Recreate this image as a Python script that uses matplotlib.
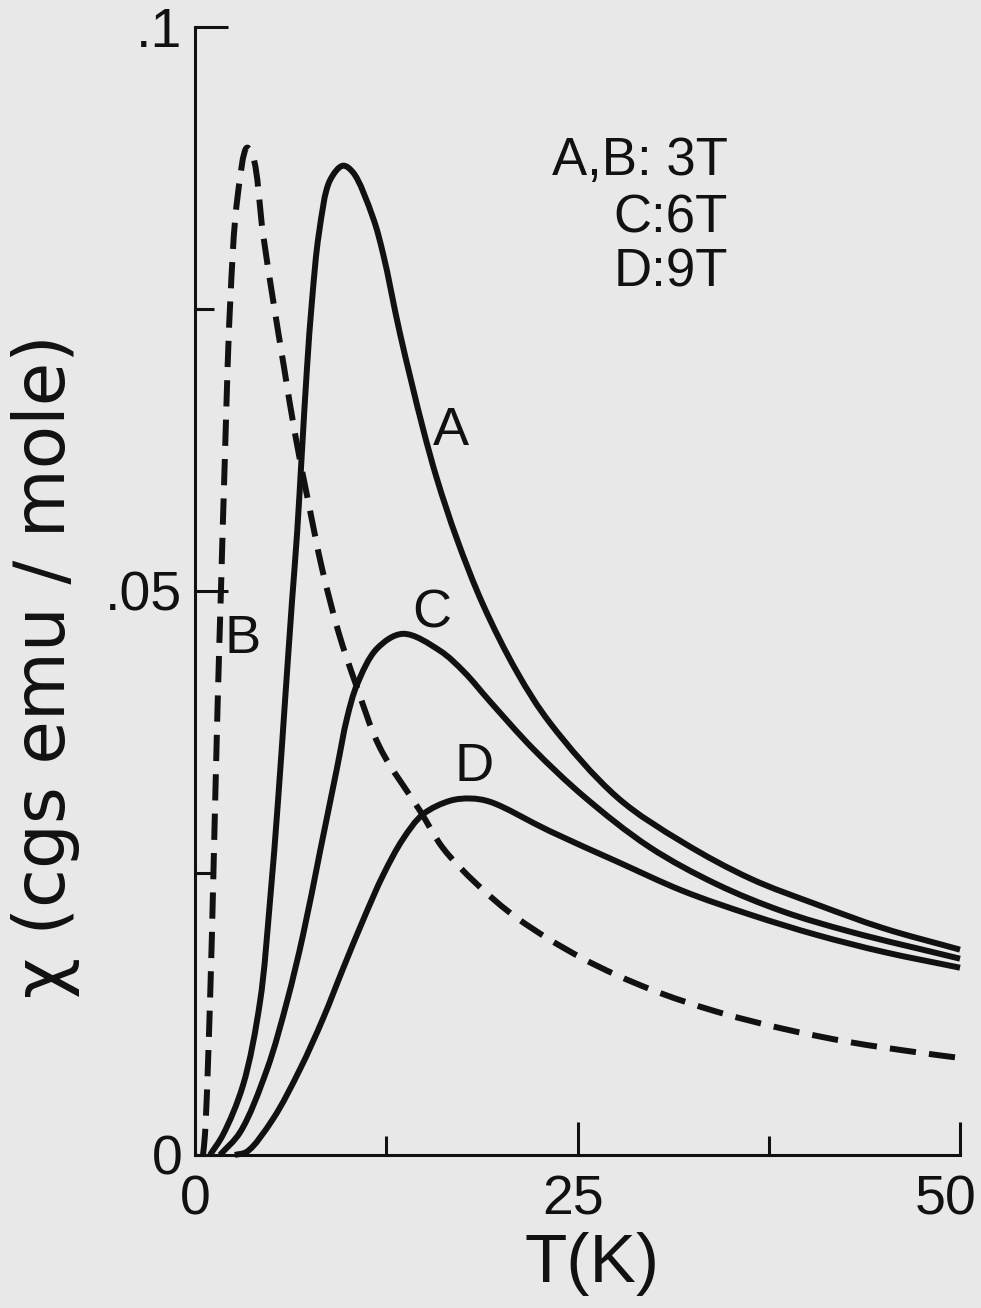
import matplotlib
matplotlib.use("Agg")
import numpy as np
import matplotlib.pyplot as plt
from matplotlib.path import Path
from matplotlib.patches import PathPatch
from matplotlib.transforms import ScaledTranslation
from matplotlib import font_manager

# ---------------- data ----------------
T_A = [0.98, 1.83, 3.14, 4.25, 4.90, 5.42, 5.88, 6.34, 6.67, 6.99, 7.32, 7.65, 8.10,
       8.82, 9.67, 10.33, 11.63, 12.29, 13.40, 14.90, 15.82, 17.12, 18.82, 21.05, 23.2,
       27.6, 31.9, 36.3, 40.65, 45.0, 50.0]
chi_A = [0.0, 0.0018, 0.0062, 0.0136, 0.0225, 0.0313, 0.0402, 0.0491, 0.0551, 0.0624,
         0.0698, 0.0758, 0.0817, 0.0864, 0.0877, 0.0871, 0.0831, 0.0799, 0.0728, 0.0644,
         0.0599, 0.0546, 0.0488, 0.0428, 0.0383, 0.0317, 0.0277, 0.0245, 0.0222,
         0.0201, 0.0182]

T_B = [0.52, 0.65, 0.98, 1.21, 1.47, 1.70, 1.93, 2.29, 2.75, 3.40, 3.79, 4.44, 5.10,
       5.82, 6.54, 7.39, 8.30, 9.41, 10.52, 12.09, 14.71, 16.21, 18.43,
       21.05, 25.36, 29.74, 34.1, 38.4, 42.8, 47.2, 50.0]
chi_B = [0.0, 0.0018, 0.0136, 0.0254, 0.0396, 0.0503, 0.0609, 0.0753, 0.0846, 0.0893,
         0.0885, 0.0817, 0.0758, 0.0698, 0.0639, 0.0580, 0.0520, 0.0462, 0.0417,
         0.0361, 0.0305, 0.0272, 0.0240, 0.0210, 0.0174, 0.0147, 0.0127,
         0.0112, 0.0100, 0.0091, 0.0086]

T_C = [1.63, 2.94, 4.71, 6.01, 7.06, 8.17, 9.28, 9.93, 10.59, 11.90, 13.59, 16.01,
       17.6, 19.28, 22.1, 25.4, 29.7, 34.1, 38.4, 42.8, 50.0]
chi_C = [0.0, 0.0020, 0.0076, 0.0136, 0.0195, 0.0269, 0.0343, 0.0387, 0.0417, 0.0449,
         0.0462, 0.0447, 0.0428, 0.0402, 0.0360, 0.0318, 0.0273, 0.0240, 0.0216,
         0.0198, 0.0174]

T_D = [2.6, 3.4, 5.10, 6.86, 8.37, 9.67, 10.98, 12.29, 13.59, 14.90, 16.67, 18.0,
       19.3, 23.2, 27.6, 31.9, 36.3, 40.65, 45.0, 50.0]
chi_D = [0.0, 0.0003, 0.0032, 0.0076, 0.0121, 0.0165, 0.0208, 0.0248, 0.0280, 0.0302,
         0.0314, 0.0316, 0.0313, 0.0287, 0.0260, 0.0234, 0.0213, 0.0195, 0.0180,
         0.0166]

x_major = [0, 25, 50]
x_major_labels = ["0", "25", "50"]
x_minor = [12.5, 37.5]
y_major = [0, 0.05, 0.1]
y_major_labels = ["0", ".05", ".1"]
y_minor = [0.025, 0.075]

legend_lines = ["A,B: 3T", "C:6T", "D:9T"]

# ---------------- fonts ----------------
avail = {f.name for f in font_manager.fontManager.ttflist}
narrow = "Liberation Sans Narrow" if "Liberation Sans Narrow" in avail else "Liberation Sans"
FONT = [narrow, "DejaVu Sans"]

BG = "#e8e8e8"
INK = "#111111"


def smooth_path(xs, ys, sx=15.3, sy=11260.0):
    """Centripetal Catmull-Rom through the read points, as cubic Bezier segments."""
    pts = np.column_stack([np.asarray(xs, float) * sx, np.asarray(ys, float) * sy])
    ext = np.vstack([2 * pts[0] - pts[1], pts, 2 * pts[-1] - pts[-2]])
    verts = [pts[0]]
    codes = [Path.MOVETO]
    for i in range(len(pts) - 1):
        p0, p1, p2, p3 = ext[i], ext[i + 1], ext[i + 2], ext[i + 3]
        d1 = np.linalg.norm(p1 - p0) ** 0.5
        d2 = np.linalg.norm(p2 - p1) ** 0.5
        d3 = np.linalg.norm(p3 - p2) ** 0.5
        b1 = (d1**2 * p2 - d2**2 * p0 + (2 * d1**2 + 3 * d1 * d2 + d2**2) * p1) / (3 * d1 * (d1 + d2))
        b2 = (d3**2 * p1 - d2**2 * p3 + (2 * d3**2 + 3 * d3 * d2 + d2**2) * p2) / (3 * d3 * (d3 + d2))
        verts += [b1, b2, p2]
        codes += [Path.CURVE4] * 3
    verts = np.array(verts) / np.array([sx, sy])
    return Path(verts, codes)


fig = plt.figure(figsize=(9.81, 13.08), dpi=100, facecolor=BG)
ax = fig.add_axes([0.1988, 0.117, 0.7798, 0.8624])
ax.set_facecolor(BG)
ax.set_xlim(0, 50)
ax.set_ylim(0, 0.1)

lw = 4.3
for T, chi in [(T_A, chi_A), (T_C, chi_C), (T_D, chi_D)]:
    p = PathPatch(smooth_path(T, chi), fill=False, edgecolor=INK, lw=lw,
                  capstyle="butt", joinstyle="round", clip_on=False)
    ax.add_patch(p)
pB = PathPatch(smooth_path(T_B, chi_B), fill=False, edgecolor=INK, lw=lw,
               linestyle=(0, (4.4, 2.2)), capstyle="butt", joinstyle="round",
               clip_on=False)
ax.add_patch(pB)

for s in ["top", "right"]:
    ax.spines[s].set_visible(False)
for s in ["left", "bottom"]:
    ax.spines[s].set_linewidth(2.2)
    ax.spines[s].set_color(INK)

ax.set_xticks(x_major)
ax.set_xticklabels(x_major_labels)
ax.set_xticks(x_minor, minor=True)
ax.set_yticks(y_major)
ax.set_yticklabels(y_major_labels)
ax.set_yticks(y_minor, minor=True)

ax.tick_params(axis="both", which="major", direction="in", length=24, width=2.2,
               color=INK, labelcolor=INK)
ax.tick_params(axis="both", which="minor", direction="in", length=13.5, width=2.2,
               color=INK)
ax.tick_params(axis="x", which="major", pad=14)
ax.tick_params(axis="y", which="major", pad=9)

for lab in ax.get_xticklabels() + ax.get_yticklabels():
    lab.set_fontfamily(FONT)
    lab.set_fontsize(40)

# the "50" label sits a little left of its tick in the original
xl = ax.get_xticklabels()
xl[-1].set_transform(xl[-1].get_transform() + ScaledTranslation(-14 / 100, 0, fig.dpi_scale_trans))
xl[1].set_transform(xl[1].get_transform() + ScaledTranslation(-4 / 100, 0, fig.dpi_scale_trans))

ax.set_xlabel("T(K)", fontsize=50, family=FONT, color=INK)
ax.xaxis.set_label_coords(0.519, -0.097)
ax.xaxis.label.set_va("center")

ax.set_ylabel("χ (cgs emu / mole)", fontsize=51, family=["DejaVu Sans"], color=INK)
ax.yaxis.set_label_coords(-0.196, 0.433)
ax.yaxis.label.set_va("center")

# curve labels
lab_kw = dict(fontsize=39, family=FONT, color=INK, ha="center", va="center")
ax.text(16.73, 0.0642, "A", **lab_kw)
ax.text(3.14, 0.0457, "B", **lab_kw)
ax.text(15.49, 0.0480, "C", **lab_kw)
ax.text(18.24, 0.0344, "D", **lab_kw)

leg_y = [0.0881, 0.0830, 0.0782]
for txt, yy in zip(legend_lines, leg_y):
    ax.text(34.84, yy, txt, fontsize=38, family=FONT, color=INK, ha="right", va="center")

fig.savefig("out.png", dpi=100, facecolor=BG)
